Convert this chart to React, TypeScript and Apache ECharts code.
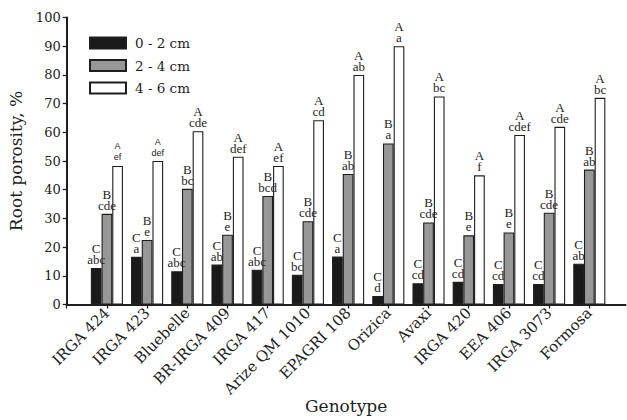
import React, { useEffect, useRef } from "react";
import * as echarts from "echarts";

const categories = ["IRGA 424", "IRGA 423", "Bluebelle", "BR-IRGA 409", "IRGA 417", "Arize QM 1010", "EPAGRI 108", "Orizica", "Avaxi", "IRGA 420", "EEA 406", "IRGA 3073", "Formosa"];
const seriesNames = ["0 - 2 cm", "2 - 4 cm", "4 - 6 cm"];
const d02 = [12.7, 16.6, 11.6, 13.9, 12.1, 10.4, 16.7, 3.0, 7.4, 7.9, 7.1, 7.1, 14.2];
const d24 = [31.6, 22.5, 40.3, 24.3, 37.8, 29.0, 45.5, 56.1, 28.6, 24.1, 25.1, 32.0, 47.0];
const d46 = [48.3, 50.0, 60.4, 51.5, 48.3, 64.2, 80.0, 90.0, 72.5, 45.0, 59.1, 61.9, 72.0];
const up02 = "C";
const up24 = "B";
const up46 = "A";
const low02 = ["abc", "a", "abc", "ab", "abc", "bc", "a", "d", "cd", "cd", "cd", "cd", "ab"];
const low24 = ["cde", "e", "bc", "e", "bcd", "cde", "ab", "a", "cde", "e", "e", "cde", "ab"];
const low46 = ["ef", "def", "cde", "def", "ef", "cd", "ab", "a", "bc", "f", "cdef", "cde", "bc"];
const sansLabelIdx46 = [0, 1];
const yTicks = [0, 10, 20, 30, 40, 50, 60, 70, 80, 90, 100];

const SERIF = "'DejaVu Serif', serif";
const INK = "#1e1e1e";

export default function App() {
  const ref = useRef<HTMLDivElement>(null);
  useEffect(() => {
    if (!ref.current) return;
    const chart = echarts.init(ref.current, null, { renderer: "svg" });
    const tickPos = categories.map((_, i) => i + 1);
    const mkSeries = (name: string, vals: number[], up: string, low: string[], color: string, sansIdx: number[]) => ({
      name,
      type: "bar",
      barWidth: 10.7,
      barGap: "0%",
      itemStyle: { color, borderColor: INK, borderWidth: 1.1 },
      label: {
        show: true,
        position: "top",
        distance: 3,
        fontFamily: "'Liberation Serif', serif",
        fontSize: 13,
        lineHeight: 11,
        color: INK,
        align: "center",
        formatter: (p: any) => up + "\n" + low[p.dataIndex],
      },
      data: vals.map((v, i) =>
        sansIdx.includes(i)
          ? { value: [i + 1, v], label: { fontFamily: "'Liberation Sans', sans-serif", fontSize: 9 } }
          : { value: [i + 1, v] }
      ),
    });
    chart.setOption({
      animation: false,
      backgroundColor: "#fff",
      textStyle: { fontFamily: SERIF },
      grid: { left: 66.7, top: 17.5, width: 558.8, height: 287, containLabel: false, outerBoundsMode: "none" },
      legend: {
        orient: "vertical",
        left: 84,
        top: 31,
        itemWidth: 36,
        itemHeight: 11,
        itemGap: 8.5,
        icon: "rect",
        textStyle: { fontFamily: SERIF, fontSize: 13.5, color: INK, padding: [0, 0, 0, 4] },
        data: seriesNames,
      },
      xAxis: {
        type: "value",
        min: 0,
        max: 13.9,
        interval: 1,
        splitLine: { show: false },
        axisLine: { show: true, lineStyle: { color: INK, width: 2 } },
        axisTick: { show: true, length: 4, lineStyle: { color: INK, width: 1.3 }, customValues: [0, ...tickPos] },
        axisLabel: {
          customValues: tickPos,
          rotate: 45,
          margin: 6,
          fontFamily: SERIF,
          fontSize: 15,
          color: INK,
          formatter: (v: number) => categories[Math.round(v) - 1] ?? "",
        },
        name: "Genotype",
        nameLocation: "middle",
        nameGap: 93,
        nameMoveOverlap: false,
        nameTextStyle: { fontFamily: SERIF, fontSize: 17, color: INK },
      },
      yAxis: {
        type: "value",
        min: 0,
        max: 100,
        interval: 10,
        splitLine: { show: false },
        axisLine: { show: true, lineStyle: { color: INK, width: 2 } },
        axisTick: { show: true, length: 4, lineStyle: { color: INK, width: 1.3 }, customValues: yTicks },
        axisLabel: { margin: 6, fontFamily: SERIF, fontSize: 13, color: INK },
        name: "Root porosity, %",
        nameLocation: "middle",
        nameGap: 42,
        nameMoveOverlap: false,
        nameTextStyle: { fontFamily: SERIF, fontSize: 17, color: INK },
      },
      series: [
        mkSeries(seriesNames[0], d02, up02, low02, "#1a1a1a", []),
        mkSeries(seriesNames[1], d24, up24, low24, "#979797", []),
        mkSeries(seriesNames[2], d46, up46, low46, "#ffffff", sansLabelIdx46),
      ],
    });
    return () => chart.dispose();
  }, []);
  return <div ref={ref} style={{ position: "absolute", left: 0, top: 0, width: 627, height: 420 }} />;
}
